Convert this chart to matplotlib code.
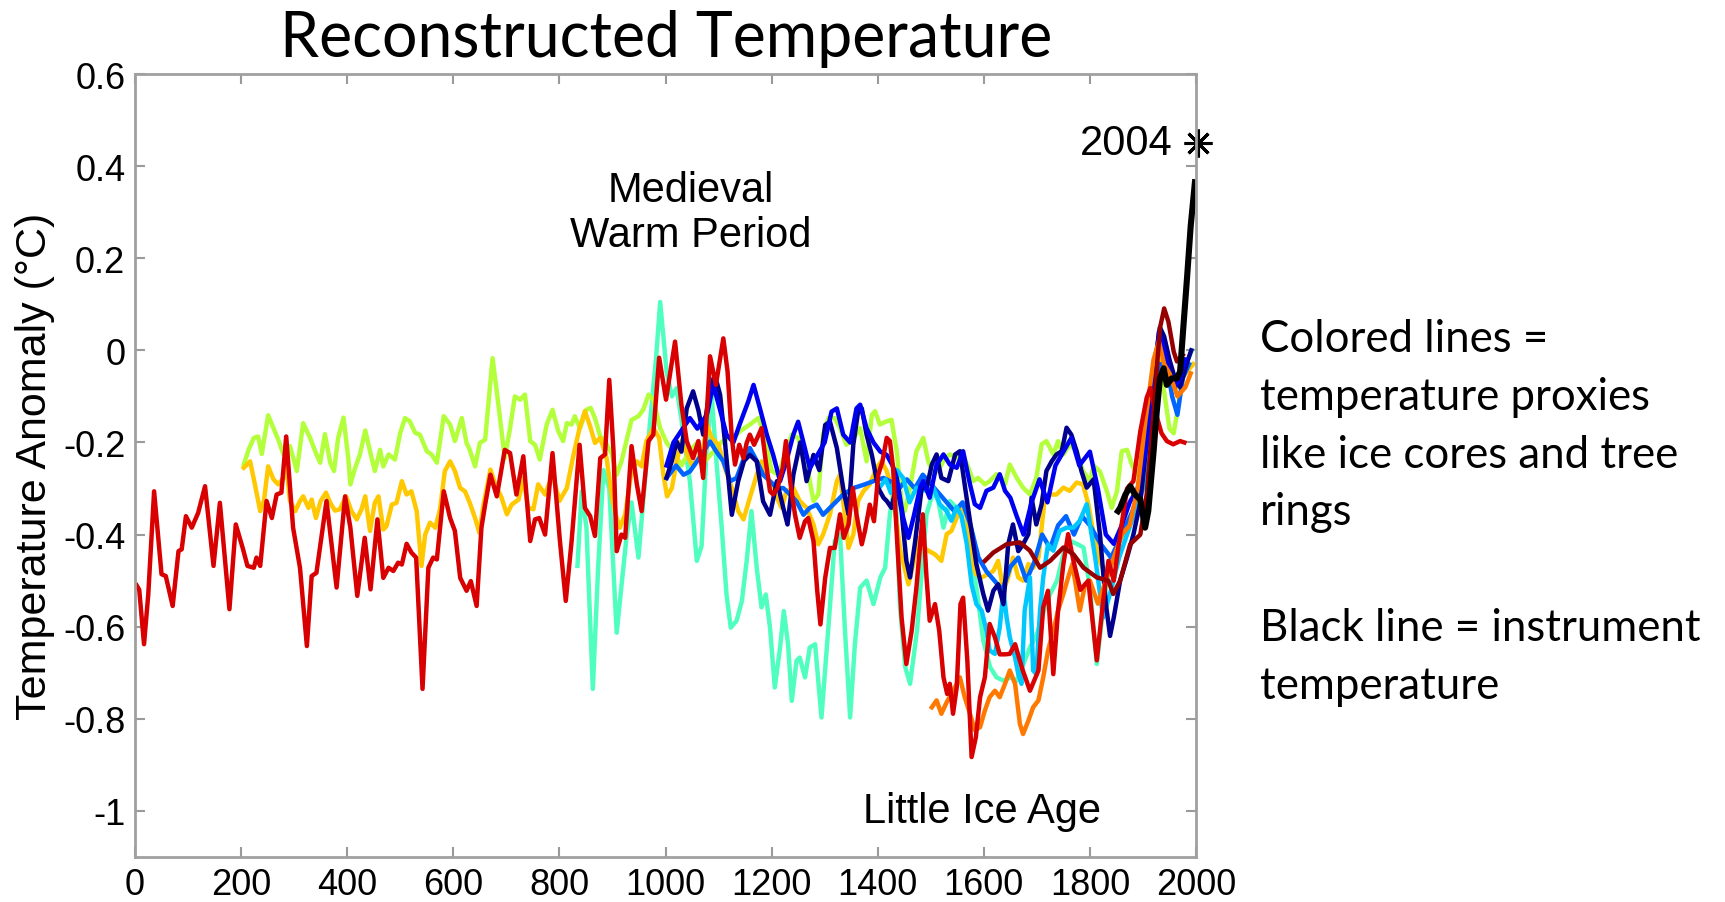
import numpy as np
import matplotlib
matplotlib.use("Agg")
import matplotlib.pyplot as plt

plt.rcParams['font.family'] = ['Liberation Sans', 'DejaVu Sans']

# reconstructed anomaly series, (year, deg C)
red = [(3, -0.51), (8, -0.52), (17, -0.638), (25, -0.530), (36, -0.306), (50, -0.486), (58, -0.490),
       (71, -0.555), (82, -0.436), (88, -0.432), (96, -0.360), (107, -0.385), (119, -0.353), (132, -0.295),
       (148, -0.468), (160, -0.331), (178, -0.562), (190, -0.378), (203, -0.429), (212, -0.468), (224, -0.472),
       (229, -0.450), (236, -0.468), (248, -0.327), (258, -0.364), (267, -0.313), (276, -0.309), (285, -0.187),
       (298, -0.385), (311, -0.472), (324, -0.642), (333, -0.490), (342, -0.483), (361, -0.327), (380, -0.515),
       (396, -0.317), (406, -0.385), (419, -0.533), (433, -0.407), (444, -0.519), (457, -0.367), (468, -0.494),
       (478, -0.472), (487, -0.479), (496, -0.461), (503, -0.465), (512, -0.420), (521, -0.439), (530, -0.450),
       (542, -0.735), (553, -0.472), (562, -0.450), (569, -0.454), (582, -0.306), (594, -0.364), (603, -0.392),
       (613, -0.494), (625, -0.522), (633, -0.501), (644, -0.555), (653, -0.385), (660, -0.335), (670, -0.270),
       (682, -0.317), (697, -0.216), (707, -0.223), (719, -0.313), (732, -0.230), (745, -0.414), (754, -0.367),
       (762, -0.364), (773, -0.400), (787, -0.223), (801, -0.414), (812, -0.544), (823, -0.414), (838, -0.205),
       (848, -0.342), (858, -0.360), (867, -0.403), (877, -0.234), (886, -0.226), (894, -0.064), (902, -0.219),
       (908, -0.436), (917, -0.400), (924, -0.407), (936, -0.208), (946, -0.291), (955, -0.349), (968, -0.197),
       (977, -0.183), (988, -0.016), (1001, -0.107), (1018, 0.019), (1030, -0.118), (1040, -0.197),
       (1052, -0.234), (1062, -0.197), (1071, -0.277), (1084, -0.013), (1095, -0.075), (1109, 0.026),
       (1117, -0.046), (1125, -0.190), (1131, -0.248), (1139, -0.205), (1147, -0.234), (1153, -0.201),
       (1159, -0.183), (1167, -0.205), (1173, -0.190), (1181, -0.169), (1189, -0.241), (1197, -0.306),
       (1203, -0.313), (1211, -0.299), (1221, -0.255), (1227, -0.197), (1235, -0.284), (1244, -0.356),
       (1253, -0.407), (1263, -0.371), (1269, -0.364), (1279, -0.414), (1286, -0.522), (1292, -0.595),
       (1301, -0.494), (1310, -0.429), (1319, -0.429), (1329, -0.356), (1336, -0.407), (1345, -0.378),
       (1353, -0.299), (1360, -0.356), (1370, -0.421), (1376, -0.392), (1385, -0.335), (1393, -0.371),
       (1401, -0.270), (1409, -0.241), (1417, -0.190), (1423, -0.197), (1429, -0.255), (1436, -0.400),
       (1445, -0.580), (1454, -0.681), (1464, -0.609), (1473, -0.515), (1485, -0.356), (1492, -0.493),
       (1498, -0.587), (1508, -0.551), (1516, -0.609), (1524, -0.710), (1531, -0.746), (1536, -0.724),
       (1542, -0.789), (1549, -0.731), (1556, -0.551), (1561, -0.537), (1569, -0.674), (1577, -0.883),
       (1585, -0.840), (1593, -0.753), (1602, -0.710), (1611, -0.594), (1621, -0.623), (1630, -0.660),
       (1640, -0.660), (1649, -0.659), (1659, -0.638), (1672, -0.690), (1687, -0.739), (1703, -0.695),
       (1712, -0.558), (1721, -0.522), (1731, -0.703), (1740, -0.565), (1750, -0.464), (1759, -0.399),
       (1769, -0.457), (1782, -0.520), (1797, -0.500), (1813, -0.673), (1825, -0.544), (1835, -0.457),
       (1845, -0.500), (1857, -0.400), (1870, -0.300), (1882, -0.284), (1895, -0.176), (1907, -0.103),
       (1914, -0.082), (1923, -0.132), (1935, -0.180), (1945, -0.197), (1957, -0.204), (1970, -0.197),
       (1978, -0.200)]

lime = [(205, -0.248), (214, -0.216), (224, -0.190), (232, -0.187), (239, -0.225), (245, -0.183), (251, -0.141),
        (261, -0.169), (270, -0.194), (280, -0.226), (292, -0.208), (305, -0.262), (317, -0.158), (330, -0.190),
        (342, -0.226), (349, -0.244), (358, -0.182), (368, -0.244), (375, -0.262), (383, -0.190), (393, -0.146),
        (402, -0.234), (406, -0.291), (415, -0.255), (424, -0.226), (434, -0.174), (443, -0.219), (452, -0.262),
        (462, -0.216), (468, -0.252), (478, -0.226), (490, -0.237), (500, -0.179), (509, -0.147), (518, -0.154),
        (528, -0.179), (537, -0.183), (550, -0.219), (559, -0.226), (569, -0.244), (582, -0.143), (594, -0.161),
        (603, -0.197), (616, -0.147), (625, -0.201), (631, -0.216), (641, -0.252), (650, -0.201), (660, -0.194),
        (674, -0.017), (685, -0.118), (697, -0.234), (707, -0.169), (716, -0.100), (726, -0.107), (735, -0.096),
        (745, -0.197), (754, -0.205), (763, -0.237), (776, -0.161), (787, -0.129), (798, -0.176), (807, -0.197),
        (814, -0.158), (823, -0.161), (829, -0.143), (839, -0.169), (851, -0.129), (859, -0.125), (867, -0.147),
        (877, -0.187), (886, -0.197), (899, -0.226), (908, -0.270), (917, -0.241), (927, -0.194), (936, -0.151),
        (949, -0.143), (958, -0.129), (968, -0.096), (977, -0.107), (990, -0.169), (1002, -0.20), (1015, -0.22),
        (1030, -0.25), (1045, -0.22), (1060, -0.20), (1075, -0.24), (1090, -0.22), (1105, -0.20), (1118, -0.19),
        (1128, -0.190), (1140, -0.176), (1159, -0.161), (1175, -0.147), (1188, -0.190), (1200, -0.262),
        (1213, -0.270), (1225, -0.226), (1238, -0.183), (1250, -0.190), (1265, -0.241), (1279, -0.327),
        (1288, -0.313), (1297, -0.183), (1307, -0.147), (1319, -0.147), (1329, -0.169), (1341, -0.205),
        (1351, -0.197), (1367, -0.169), (1379, -0.241), (1389, -0.140), (1395, -0.132), (1404, -0.161),
        (1417, -0.154), (1426, -0.151), (1436, -0.22), (1445, -0.33), (1451, -0.349), (1461, -0.298),
        (1473, -0.219), (1486, -0.190), (1495, -0.240), (1505, -0.269), (1517, -0.255), (1527, -0.233),
        (1536, -0.226), (1549, -0.233), (1558, -0.219), (1571, -0.255), (1580, -0.284), (1589, -0.277),
        (1602, -0.291), (1611, -0.284), (1624, -0.269), (1633, -0.277), (1640, -0.291), (1649, -0.248),
        (1662, -0.277), (1674, -0.298), (1687, -0.313), (1699, -0.277), (1709, -0.204), (1718, -0.197),
        (1731, -0.226), (1740, -0.197), (1750, -0.226), (1762, -0.204), (1775, -0.219), (1787, -0.262),
        (1800, -0.284), (1807, -0.25), (1819, -0.263), (1832, -0.306), (1841, -0.342), (1851, -0.306),
        (1860, -0.219), (1870, -0.216), (1879, -0.248), (1889, -0.270), (1898, -0.248), (1910, -0.16),
        (1920, -0.08), (1930, -0.04), (1940, -0.09), (1950, -0.17), (1958, -0.18), (1968, -0.11), (1980, -0.03)]

gold = [(205, -0.255), (217, -0.241), (226, -0.291), (236, -0.349), (243, -0.327), (251, -0.252), (261, -0.280),
        (270, -0.291), (280, -0.277), (285, -0.244), (292, -0.327), (302, -0.349), (311, -0.327), (317, -0.317),
        (327, -0.342), (333, -0.324), (341, -0.364), (350, -0.327), (360, -0.309), (368, -0.331), (377, -0.348),
        (386, -0.345), (398, -0.317), (408, -0.349), (418, -0.367), (427, -0.345), (434, -0.317), (443, -0.392),
        (452, -0.331), (459, -0.317), (468, -0.389), (474, -0.382), (484, -0.335), (493, -0.331), (503, -0.284),
        (512, -0.313), (521, -0.306), (531, -0.349), (540, -0.468), (547, -0.400), (556, -0.374), (566, -0.385),
        (575, -0.345), (584, -0.262), (594, -0.241), (603, -0.262), (613, -0.299), (622, -0.306), (631, -0.331),
        (641, -0.364), (649, -0.396), (657, -0.335), (670, -0.259), (679, -0.291), (691, -0.320), (701, -0.356),
        (710, -0.335), (723, -0.324), (732, -0.277), (741, -0.342), (751, -0.345), (760, -0.291), (773, -0.313),
        (787, -0.270), (800, -0.327), (814, -0.299), (826, -0.230), (838, -0.169), (848, -0.132), (858, -0.165),
        (867, -0.201), (877, -0.190), (889, -0.234), (899, -0.320), (908, -0.364), (914, -0.385), (924, -0.356),
        (936, -0.262), (946, -0.241), (955, -0.252), (964, -0.197), (977, -0.169), (988, -0.190), (996, -0.270),
        (1003, -0.317), (1012, -0.299), (1021, -0.241), (1030, -0.197), (1040, -0.223), (1049, -0.248),
        (1059, -0.241), (1071, -0.212), (1078, -0.161), (1087, -0.190), (1100, -0.205), (1112, -0.255),
        (1125, -0.299), (1137, -0.349), (1147, -0.367), (1159, -0.320), (1172, -0.270), (1181, -0.241),
        (1191, -0.270), (1200, -0.299), (1210, -0.320), (1219, -0.342), (1228, -0.306), (1241, -0.299),
        (1253, -0.327), (1266, -0.342), (1279, -0.378), (1288, -0.421), (1297, -0.400), (1310, -0.356),
        (1323, -0.284), (1329, -0.270), (1338, -0.356), (1345, -0.429), (1354, -0.400), (1363, -0.327),
        (1373, -0.306), (1385, -0.291), (1398, -0.255), (1407, -0.241), (1417, -0.262), (1429, -0.313),
        (1442, -0.43), (1458, -0.508), (1467, -0.464), (1476, -0.407), (1486, -0.428), (1497, -0.436),
        (1508, -0.443), (1520, -0.457), (1530, -0.399), (1539, -0.392), (1549, -0.363), (1558, -0.334),
        (1568, -0.363), (1577, -0.450), (1585, -0.486), (1596, -0.493), (1608, -0.486), (1618, -0.479),
        (1627, -0.457), (1637, -0.522), (1646, -0.493), (1655, -0.450), (1665, -0.493), (1674, -0.500),
        (1684, -0.464), (1693, -0.472), (1703, -0.450), (1715, -0.320), (1725, -0.313), (1737, -0.313),
        (1750, -0.298), (1762, -0.305), (1775, -0.287), (1787, -0.291), (1797, -0.334), (1807, -0.40),
        (1819, -0.458), (1830, -0.49), (1845, -0.45), (1860, -0.40), (1875, -0.38), (1890, -0.33),
        (1905, -0.20), (1920, -0.06), (1935, -0.02), (1950, -0.05), (1965, -0.08), (1980, -0.05), (1995, -0.03)]

aqua = [(834, -0.468), (842, -0.306), (851, -0.385), (863, -0.735), (873, -0.472), (883, -0.26), (894, -0.30),
        (908, -0.613), (918, -0.50), (927, -0.40), (936, -0.33), (949, -0.45), (960, -0.30), (971, -0.154),
        (982, -0.02), (990, 0.105), (996, 0.03), (1002, -0.046), (1012, -0.10), (1021, -0.082), (1030, -0.15),
        (1046, -0.285), (1059, -0.457), (1068, -0.425), (1078, -0.205), (1087, -0.096), (1096, -0.241),
        (1106, -0.385), (1115, -0.530), (1123, -0.602), (1134, -0.587), (1144, -0.544), (1153, -0.457),
        (1162, -0.349), (1172, -0.472), (1181, -0.558), (1189, -0.530), (1197, -0.602), (1206, -0.732),
        (1216, -0.645), (1223, -0.566), (1231, -0.638), (1238, -0.761), (1247, -0.674), (1253, -0.667),
        (1263, -0.710), (1272, -0.645), (1282, -0.638), (1294, -0.797), (1307, -0.602), (1319, -0.414),
        (1329, -0.400), (1338, -0.602), (1348, -0.797), (1357, -0.638), (1367, -0.515), (1379, -0.500),
        (1392, -0.551), (1405, -0.493), (1414, -0.472), (1423, -0.356), (1433, -0.284), (1442, -0.558),
        (1452, -0.688), (1461, -0.724), (1474, -0.609), (1492, -0.356), (1505, -0.305), (1514, -0.327),
        (1524, -0.385), (1536, -0.327), (1555, -0.35), (1574, -0.428), (1587, -0.522), (1599, -0.630),
        (1612, -0.688), (1624, -0.710), (1637, -0.717), (1650, -0.710), (1662, -0.717), (1675, -0.680),
        (1687, -0.645), (1700, -0.616), (1712, -0.570), (1725, -0.529), (1738, -0.500), (1750, -0.443),
        (1763, -0.414), (1775, -0.420), (1788, -0.428), (1800, -0.515), (1813, -0.681), (1825, -0.560),
        (1838, -0.457), (1851, -0.428), (1870, -0.38), (1890, -0.33), (1910, -0.20), (1930, -0.08),
        (1950, -0.06), (1970, -0.05), (1985, -0.02), (1992, 0.0)]

navy = [(1002, -0.277), (1012, -0.24), (1021, -0.198), (1030, -0.22), (1040, -0.126), (1052, -0.089),
        (1062, -0.13), (1071, -0.183), (1084, -0.082), (1093, -0.053), (1103, -0.097), (1112, -0.198),
        (1125, -0.357), (1137, -0.284), (1148, -0.24), (1159, -0.227), (1172, -0.241), (1184, -0.328),
        (1197, -0.357), (1210, -0.284), (1222, -0.342), (1230, -0.378), (1241, -0.270), (1254, -0.200),
        (1266, -0.284), (1279, -0.227), (1290, -0.26), (1301, -0.162), (1310, -0.155), (1323, -0.212),
        (1335, -0.30), (1345, -0.356), (1354, -0.205), (1363, -0.133), (1370, -0.126), (1379, -0.183),
        (1389, -0.227), (1401, -0.299), (1411, -0.320), (1417, -0.327), (1426, -0.342), (1436, -0.29),
        (1445, -0.349), (1454, -0.457), (1461, -0.493), (1470, -0.42), (1483, -0.298), (1492, -0.30),
        (1502, -0.248), (1511, -0.226), (1520, -0.277), (1533, -0.284), (1546, -0.226), (1555, -0.219),
        (1565, -0.30), (1574, -0.371), (1586, -0.464), (1599, -0.529), (1608, -0.565), (1618, -0.522),
        (1627, -0.508), (1637, -0.551), (1646, -0.421), (1655, -0.378), (1665, -0.436), (1674, -0.421),
        (1684, -0.399), (1690, -0.320), (1699, -0.378), (1709, -0.334), (1718, -0.262), (1728, -0.241),
        (1737, -0.226), (1747, -0.219), (1756, -0.168), (1765, -0.183), (1775, -0.219), (1784, -0.262),
        (1794, -0.298), (1807, -0.28), (1819, -0.40), (1830, -0.55), (1838, -0.62), (1845, -0.58),
        (1857, -0.50), (1870, -0.45), (1882, -0.40), (1895, -0.33), (1907, -0.20), (1920, -0.05),
        (1932, 0.05), (1940, 0.03), (1950, -0.02), (1960, -0.06), (1970, -0.08), (1985, -0.02), (1991, 0.0)]

blue = [(1002, -0.25), (1015, -0.20), (1033, -0.169), (1046, -0.147), (1060, -0.17), (1078, -0.140),
        (1090, -0.075), (1103, -0.13), (1115, -0.183), (1128, -0.20), (1140, -0.16), (1156, -0.111),
        (1166, -0.075), (1178, -0.126), (1191, -0.183), (1203, -0.227), (1216, -0.284), (1228, -0.24),
        (1241, -0.183), (1250, -0.155), (1260, -0.20), (1272, -0.256), (1285, -0.23), (1300, -0.20),
        (1313, -0.133), (1323, -0.126), (1335, -0.183), (1348, -0.20), (1360, -0.126), (1367, -0.118),
        (1379, -0.169), (1392, -0.20), (1405, -0.22), (1417, -0.227), (1428, -0.25), (1436, -0.277),
        (1448, -0.363), (1458, -0.407), (1468, -0.36), (1480, -0.298), (1486, -0.284), (1498, -0.320),
        (1511, -0.248), (1524, -0.226), (1536, -0.248), (1549, -0.255), (1561, -0.219), (1574, -0.291),
        (1583, -0.334), (1593, -0.342), (1605, -0.305), (1618, -0.298), (1630, -0.269), (1640, -0.305),
        (1650, -0.32), (1662, -0.36), (1675, -0.40), (1690, -0.33), (1705, -0.28), (1720, -0.33),
        (1735, -0.25), (1750, -0.22), (1765, -0.19), (1780, -0.25), (1800, -0.22), (1815, -0.30),
        (1830, -0.40), (1845, -0.42), (1860, -0.38), (1875, -0.33), (1890, -0.30), (1905, -0.22),
        (1920, -0.08), (1930, 0.04), (1940, 0.0), (1950, -0.05), (1960, -0.08), (1970, -0.06), (1980, -0.02)]

midblue = [(1002, -0.277), (1020, -0.25), (1034, -0.27), (1046, -0.263), (1060, -0.24), (1084, -0.198),
           (1096, -0.22), (1109, -0.241), (1122, -0.284), (1134, -0.277), (1146, -0.24), (1159, -0.212),
           (1172, -0.24), (1184, -0.270), (1197, -0.284), (1210, -0.299), (1222, -0.299), (1235, -0.313),
           (1247, -0.328), (1260, -0.357), (1272, -0.342), (1285, -0.335), (1297, -0.357), (1316, -0.335),
           (1335, -0.313), (1354, -0.299), (1373, -0.292), (1392, -0.284), (1411, -0.277), (1423, -0.284),
           (1440, -0.30), (1455, -0.28), (1470, -0.30), (1485, -0.27), (1500, -0.29), (1515, -0.31),
           (1530, -0.33), (1545, -0.35), (1560, -0.33), (1575, -0.38), (1590, -0.45), (1605, -0.48),
           (1620, -0.50), (1635, -0.52), (1650, -0.47), (1665, -0.45), (1680, -0.50), (1695, -0.46),
           (1710, -0.40), (1725, -0.43), (1740, -0.38), (1755, -0.36), (1770, -0.40), (1785, -0.36),
           (1800, -0.38), (1820, -0.42), (1840, -0.45), (1860, -0.40), (1880, -0.35), (1900, -0.28),
           (1915, -0.15), (1930, -0.03), (1945, -0.03), (1955, -0.10), (1965, -0.14), (1975, -0.06), (1987, -0.03)]

cyan = [(1402, -0.30), (1415, -0.28), (1425, -0.31), (1436, -0.26), (1448, -0.277), (1460, -0.33),
        (1473, -0.298), (1492, -0.305), (1505, -0.298), (1517, -0.334), (1530, -0.349), (1539, -0.370),
        (1549, -0.34), (1558, -0.36), (1568, -0.421), (1577, -0.508), (1586, -0.551), (1596, -0.565),
        (1605, -0.609), (1611, -0.652), (1621, -0.659), (1630, -0.602), (1637, -0.522), (1643, -0.58),
        (1649, -0.623), (1659, -0.667), (1665, -0.703), (1671, -0.724), (1677, -0.565), (1687, -0.493),
        (1693, -0.695), (1699, -0.703), (1706, -0.565), (1712, -0.493), (1721, -0.421), (1731, -0.435),
        (1743, -0.392), (1756, -0.385), (1769, -0.385), (1781, -0.370), (1794, -0.334), (1810, -0.45),
        (1825, -0.58), (1840, -0.52), (1855, -0.45), (1870, -0.40), (1885, -0.35), (1900, -0.30),
        (1915, -0.16), (1930, -0.05), (1945, -0.05), (1960, -0.08)]

orange = [(1502, -0.775), (1511, -0.760), (1520, -0.789), (1530, -0.764), (1542, -0.74), (1555, -0.710),
          (1564, -0.753), (1574, -0.789), (1583, -0.825), (1593, -0.818), (1602, -0.782), (1611, -0.753),
          (1621, -0.739), (1630, -0.753), (1640, -0.724), (1649, -0.695), (1659, -0.724), (1668, -0.811),
          (1674, -0.833), (1684, -0.804), (1693, -0.775), (1703, -0.76), (1712, -0.710), (1721, -0.652),
          (1731, -0.609), (1740, -0.565), (1750, -0.529), (1759, -0.493), (1767, -0.464), (1775, -0.522),
          (1781, -0.565), (1791, -0.508), (1800, -0.500), (1815, -0.55), (1830, -0.50), (1845, -0.45),
          (1860, -0.40), (1875, -0.38), (1890, -0.30), (1905, -0.15), (1920, -0.02), (1930, 0.02),
          (1940, -0.03), (1950, -0.05), (1965, -0.10), (1980, -0.08), (1990, -0.05)]

darkred = [(1602, -0.457), (1618, -0.439), (1643, -0.421), (1668, -0.417), (1687, -0.435), (1706, -0.472),
           (1725, -0.457), (1750, -0.428), (1769, -0.443), (1788, -0.472), (1813, -0.493), (1835, -0.500),
           (1844, -0.529), (1857, -0.500), (1876, -0.421), (1895, -0.40), (1907, -0.313), (1920, -0.133),
           (1932, 0.048), (1940, 0.091), (1948, 0.062), (1958, -0.003), (1964, -0.024), (1975, -0.01)]

# instrumental record
instrument = [(1853, -0.349), (1857, -0.342), (1867, -0.313), (1876, -0.295), (1885, -0.313), (1895, -0.324),
              (1904, -0.385), (1910, -0.349), (1920, -0.22), (1926, -0.133), (1932, -0.061), (1939, -0.039),
              (1945, -0.075), (1954, -0.061), (1964, -0.061), (1970, -0.046), (1976, 0.048), (1983, 0.156),
              (1990, 0.27), (1998, 0.365)]

proxies = [
    (aqua, '#50FFC0'),
    (lime, '#B4FF3C'),
    (gold, '#FFC800'),
    (midblue, '#0064FF'),
    (cyan, '#00C8FF'),
    (navy, '#00008C'),
    (blue, '#0000F0'),
    (orange, '#FF7800'),
    (red, '#D80000'),
    (darkred, '#960000'),
]

star_year = 2004
star_value = 0.45

fig = plt.figure(figsize=(17.25, 9.03), dpi=100)
ax = fig.add_axes([135 / 1725, 45 / 903, 1061 / 1725, 783 / 903])

for series, color in proxies:
    yrs, vals = zip(*series)
    ax.plot(yrs, vals, color=color, lw=3.2, solid_joinstyle='round')

yrs, vals = zip(*instrument)
ax.plot(yrs, vals, color='black', lw=4.4, solid_joinstyle='round')

ax.plot(star_year, star_value, marker=(8, 2, 0), ms=20, mew=2.2, color='black', clip_on=False)
ax.text(1955, star_value, str(star_year), ha='right', va='center', fontsize=30)

ax.text(1048, 0.30, 'Medieval\nWarm Period', ha='center', va='center', fontsize=30, linespacing=1.15)
ax.text(1597, -1.0, 'Little Ice Age', ha='center', va='center', fontsize=30)

ax.set_xlim(0, 2000)
ax.set_ylim(-1.1, 0.6)
ax.set_xticks(np.arange(0, 2001, 200))
yticks = [-1, -0.8, -0.6, -0.4, -0.2, 0, 0.2, 0.4, 0.6]
ax.set_yticks(yticks)
ax.set_yticklabels(['-1', '-0.8', '-0.6', '-0.4', '-0.2', '0', '0.2', '0.4', '0.6'])
ax.tick_params(direction='in', length=7, width=1.5, color='#9A9A9A', top=True, right=True,
               labelsize=26, pad=7)
for sp in ax.spines.values():
    sp.set_color('#A0A0A0')
    sp.set_linewidth(2)

ax.set_ylabel('Temperature Anomaly (°C)', fontsize=31)
ax.yaxis.set_label_coords(-0.075, 0.5)

fig.text(0.386, 0.937, 'Reconstructed Temperature', ha='center', va='baseline',
         fontsize=45, family=['Lato', 'DejaVu Sans'])

notes = ['Colored lines =', 'temperature proxies', 'like ice cores and tree', 'rings',
         '', 'Black line = instrument', 'temperature']
for i, line in enumerate(notes):
    fig.text(1260 / 1725, 1 - (352 + 57.8 * i) / 903, line, ha='left', va='baseline',
             fontsize=31.5, family=['Lato', 'DejaVu Sans'])

fig.savefig('out.png', dpi=100)
